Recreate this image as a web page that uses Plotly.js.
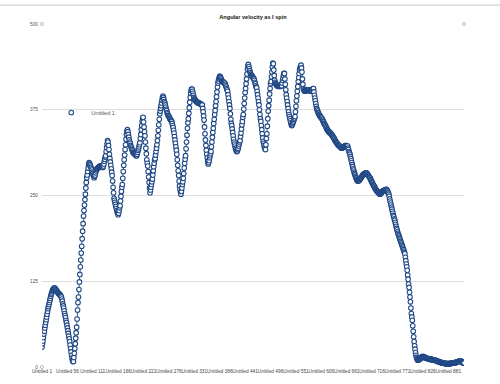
<!DOCTYPE html>
<html>
<head>
<meta charset="utf-8">
<script src="https://cdn.plot.ly/plotly-3.0.1.min.js"></script>
<style>html,body{margin:0;padding:0;background:#fff;}#chart{width:500px;height:384px;}</style>
</head>
<body>
<div id="chart"></div>
<script>
// Series values (angular velocity), one per sample "Untitled n"
const angularVelocity = [
29,34,38,43,48,52,57,61,65,69,
73,77,81,85,88,91,94,97,100,103,
106,108,110,112,113,114,115,115,115,114,
113,112,111,110,109,108,107,107,106,105,
104,103,102,99,96,92,89,86,82,78,
75,72,68,65,61,57,53,49,45,41,
37,32,27,22,17,13,10,8,8,14,
20,27,34,42,50,58,70,83,94,102,
113,124,135,146,156,166,176,187,198,209,
220,228,236,244,252,261,269,276,280,285,
290,295,298,297,295,293,291,289,287,284,
282,280,278,276,278,280,283,286,288,289,
289,290,291,291,292,293,293,293,292,292,
292,291,291,293,296,300,303,306,308,314,
320,325,330,328,323,317,310,304,299,294,
289,284,279,271,262,254,246,243,240,237,
234,231,228,226,224,222,224,228,232,235,
242,249,256,262,266,275,285,294,302,309,
317,324,332,339,344,346,343,339,335,331,
328,326,323,321,319,317,315,313,312,312,
311,310,310,309,308,308,310,313,316,318,
321,324,327,333,339,346,352,358,363,364,
357,350,343,337,328,319,311,302,297,293,
285,277,269,261,254,258,262,266,270,274,
280,286,292,297,302,304,309,314,319,324,
330,337,345,353,361,369,373,377,381,385,
389,393,395,393,390,387,385,382,379,376,
374,371,369,367,366,365,364,362,361,360,
359,358,355,352,349,345,341,336,331,326,
321,316,310,302,294,286,279,271,264,259,
255,252,256,261,266,270,275,282,290,297,
303,308,318,328,338,348,356,362,370,378,
386,393,399,403,405,405,402,399,396,393,
391,390,389,388,387,387,386,386,385,385,
385,384,384,384,383,383,382,382,377,372,
366,360,350,340,331,323,316,310,305,300,
296,298,301,305,308,311,314,321,328,335,
342,348,355,361,368,374,381,387,394,401,
408,414,417,420,422,424,423,422,420,418,
417,416,416,415,415,414,414,412,410,408,
406,404,402,397,392,387,382,377,369,361,
355,352,347,342,337,332,328,325,322,319,
317,315,314,315,317,319,322,325,328,330,
336,341,347,353,358,364,368,376,384,392,
400,406,413,420,427,434,439,441,438,435,
432,429,427,426,425,424,423,422,421,420,
418,415,413,410,408,407,402,397,392,387,
382,375,368,362,358,352,346,340,334,329,
326,323,320,318,317,324,333,340,351,362,
373,381,389,398,406,413,416,423,430,437,
443,442,433,425,418,415,413,412,411,410,
410,410,410,409,410,411,409,410,411,410,
414,418,421,425,428,428,420,412,404,397,
392,387,382,377,372,368,365,362,359,356,
353,352,353,355,357,359,361,363,365,372,
380,388,395,402,409,416,422,428,433,436,
438,440,436,430,420,412,406,404,403,402,
402,403,403,404,403,404,404,404,404,403,
403,403,402,402,402,403,405,406,406,401,
396,392,388,384,380,377,375,373,371,370,
368,367,366,365,364,363,363,361,360,358,
357,355,354,353,352,350,349,347,346,345,
344,343,343,342,341,341,340,339,338,337,
336,335,334,333,331,330,329,328,327,326,
325,324,324,323,322,322,321,320,320,319,
319,320,320,321,321,322,322,322,323,322,
322,322,322,319,317,314,312,310,307,304,
301,298,295,292,289,287,284,282,280,278,
276,275,273,272,271,271,272,272,273,274,
275,276,277,278,279,280,281,281,282,282,
282,283,283,283,282,281,280,279,278,277,
276,275,273,272,270,269,268,266,265,264,
263,261,260,259,258,257,256,255,255,254,
253,253,252,253,253,254,255,256,256,257,
257,257,258,258,258,259,259,258,257,255,
254,252,249,245,242,239,236,233,230,227,
224,221,219,216,214,211,208,205,202,200,
197,195,193,191,189,187,185,183,181,179,
177,175,173,171,169,167,165,160,155,150,
146,141,134,128,121,116,109,102,95,86,
78,73,68,60,52,44,37,31,26,21,
17,14,12,11,10,10,11,11,12,12,
13,13,14,15,15,15,15,15,14,14,
14,13,13,13,13,12,12,12,12,12,
12,11,11,11,11,11,10,10,10,10,
10,10,10,9,9,9,9,8,8,8,
8,7,7,7,7,6,6,6,6,6,
6,6,5,5,5,5,5,5,5,5,
5,5,5,5,5,5,5,6,6,6,
6,6,6,6,6,6,7,7,7,7,
8,8,8,8,9,9,9,9,8,8,
7,7,6,6,6
];

// Category names, one per sample
const categories = angularVelocity.map((v, i) => "Untitled " + (i + 1));

// X tick labels shown on the axis
const xTickLabels = ["Untitled 1","Untitled 56","Untitled 111","Untitled 166","Untitled 221",
  "Untitled 276","Untitled 331","Untitled 386","Untitled 441","Untitled 496","Untitled 551",
  "Untitled 606","Untitled 661","Untitled 716","Untitled 771","Untitled 826","Untitled 881"];

// Y ticks
const yTicks = [0, 125, 250, 375, 500];

const seriesName = "Untitled 1";
const chartTitle = "Angular velocity as I spin";

// connecting line (drawn beneath the markers)
const lineTrace = {
  type: "scatter", mode: "lines", name: seriesName,
  x: categories, y: angularVelocity,
  line: {color: "#2d5b98", width: 1},
  showlegend: false, legendgroup: "s1"
};
// markers of the same series
const markerTrace = {
  type: "scatter", mode: "markers", name: seriesName,
  x: categories, y: angularVelocity,
  marker: {symbol: "circle", size: 4.6, color: "#ffffff", line: {color: "#1f4785", width: 1.1}},
  showlegend: true, legendgroup: "s1"
};

function endCircle(xPaper, yPaper) {
  return {type: "circle", xref: "paper", yref: "paper", xsizemode: "pixel", ysizemode: "pixel",
    xanchor: xPaper, yanchor: yPaper, x0: -1.6, x1: 1.6, y0: -1.6, y1: 1.6,
    line: {color: "#b0b0b0", width: 0.8}, fillcolor: "#ffffff", layer: "above"};
}

const layout = {
  width: 500, height: 384,
  margin: {l: 42, r: 36, t: 24, b: 17, pad: 0},
  paper_bgcolor: "#ffffff", plot_bgcolor: "#ffffff",
  font: {family: "Liberation Sans, Arial, sans-serif", color: "#444"},
  title: {text: "<b>" + chartTitle + "</b>", font: {size: 5.6, color: "#111", family: "Liberation Sans, Arial, sans-serif"},
    x: 0.5, xref: "paper", xanchor: "center", y: 1 - 17/384, yref: "container", yanchor: "middle"},
  xaxis: {type: "category", range: [0, angularVelocity.length - 1], tickmode: "array",
    tickvals: xTickLabels, ticktext: xTickLabels, showgrid: false, zeroline: false, showline: false,
    ticks: "", tickangle: 0, tickfont: {size: 4.8, color: "#444"}, fixedrange: true},
  yaxis: {range: [0, 500], tickmode: "array", tickvals: yTicks, ticktext: yTicks.map(String),
    showgrid: true, gridcolor: "#d6d6d6", gridwidth: 0.8, zeroline: false, showline: false,
    ticks: "", ticklabelstandoff: 3, tickfont: {size: 4.8, color: "#555"}, fixedrange: true},
  showlegend: true,
  legend: {x: 0.022, xanchor: "left", y: 0.742, yanchor: "middle", xref: "paper", yref: "paper",
    bgcolor: "rgba(0,0,0,0)", borderwidth: 0, font: {size: 5.6, color: "#555"}, itemwidth: 30},
  shapes: [
    endCircle(0, 1), endCircle(1, 1), endCircle(0, 0),
    {type: "line", xref: "paper", yref: "paper", x0: -0.1, x1: 1.09, y0: 1.055, y1: 1.055,
     line: {color: "#c8c8c8", width: 1}}
  ]
};

Plotly.newPlot("chart", [lineTrace, markerTrace], layout, {displayModeBar: false, staticPlot: true});
</script>
</body>
</html>
